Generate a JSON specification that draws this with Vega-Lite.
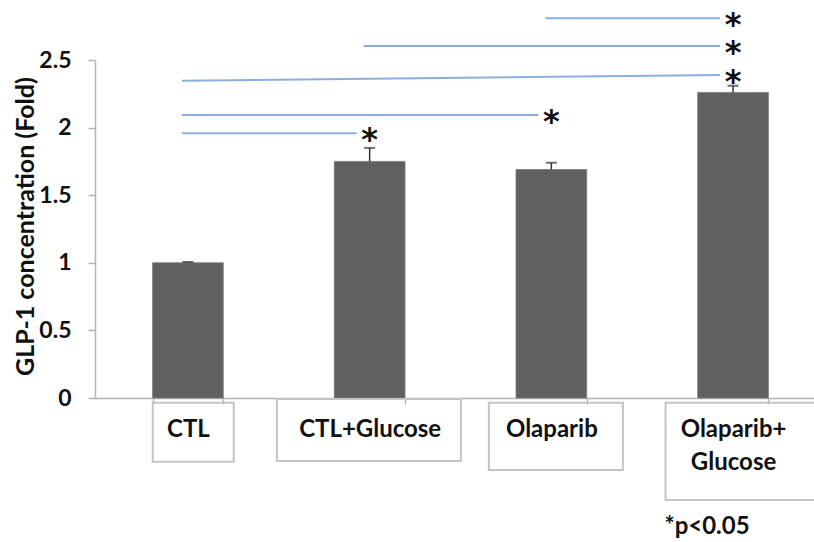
{
  "$schema": "https://vega.github.io/schema/vega-lite/v6.json",
  "width": 731,
  "height": 338,
  "autosize": {"type": "none"},
  "padding": {"left": 95, "top": 60, "right": 0, "bottom": 144},
  "background": "white",
  "config": {"view": {"stroke": null}, "font": "Lato"},
  "datasets": {
    "bars": [
      {"group": "CTL", "value": 1.0, "upper": 1.006},
      {"group": "CTL+Glucose", "value": 1.75, "upper": 1.85},
      {"group": "Olaparib", "value": 1.69, "upper": 1.74},
      {"group": "Olaparib+Glucose", "value": 2.26, "upper": 2.31}
    ],
    "sig": [
      {"from": "Olaparib", "to": "Olaparib+Glucose", "yStart": 2.808, "yEnd": 2.808},
      {"from": "CTL+Glucose", "to": "Olaparib+Glucose", "yStart": 2.604, "yEnd": 2.604},
      {"from": "CTL", "to": "Olaparib+Glucose", "yStart": 2.347, "yEnd": 2.389},
      {"from": "CTL", "to": "Olaparib", "yStart": 2.093, "yEnd": 2.093},
      {"from": "CTL", "to": "CTL+Glucose", "yStart": 1.958, "yEnd": 1.958}
    ],
    "note": [{"group": "Olaparib+Glucose", "text": "*p<0.05"}]
  },
  "layer": [
    {
      "data": {"name": "bars"},
      "mark": {"type": "bar", "color": "#606060", "stroke": "#777777", "strokeWidth": 0.8},
      "encoding": {
        "x": {
          "field": "group", "type": "nominal", "sort": null,
          "scale": {"domain": ["CTL", "CTL+Glucose", "Olaparib", "Olaparib+Glucose"], "paddingInner": 0.611, "paddingOuter": 0.317},
          "axis": {
            "title": null, "domainColor": "#b4b4b4", "domainWidth": 1.5,
            "tickColor": "#b4b4b4", "tickWidth": 1.5, "tickSize": 6, "tickBand": "extent",
            "labelFont": "Lato", "labelFontWeight": "bold", "labelFontSize": 24, "labelColor": "#111111",
            "labelPadding": 13, "labelBaseline": "top", "labelLineHeight": 33, "labelAngle": 0,
            "labelExpr": "datum.value == 'Olaparib+Glucose' ? ['Olaparib+', 'Glucose'] : datum.label"
          }
        },
        "y": {
          "field": "value", "type": "quantitative",
          "scale": {"domain": [0, 2.5], "nice": false},
          "axis": {
            "title": "GLP-1 concentration (Fold)", "values": [0, 0.5, 1, 1.5, 2, 2.5], "format": "~g",
            "grid": false, "domainColor": "#b4b4b4", "domainWidth": 1.5,
            "tickColor": "#b4b4b4", "tickWidth": 1.5, "tickSize": 7,
            "labelFont": "Lato", "labelFontWeight": "bold", "labelFontSize": 23, "labelColor": "#111111", "labelPadding": 17,
            "titleFont": "Lato", "titleFontWeight": "bold", "titleFontSize": 25, "titleColor": "#111111",
            "titleAngle": -90, "titleX": -70, "titleY": 166, "titleAlign": "center", "titleBaseline": "middle"
          }
        }
      }
    },
    {
      "data": {"name": "bars"},
      "transform": [{"filter": "datum.group == 'CTL'"}],
      "mark": {"type": "rect", "filled": false, "stroke": "#c4c4c4", "strokeWidth": 2, "width": 81, "xOffset": 5.3},
      "encoding": {"x": {"field": "group", "type": "nominal"}, "y": {"datum": -0.035}, "y2": {"datum": -0.471}}
    },
    {
      "data": {"name": "bars"},
      "transform": [{"filter": "datum.group == 'CTL+Glucose'"}],
      "mark": {"type": "rect", "filled": false, "stroke": "#c4c4c4", "strokeWidth": 2, "width": 184, "xOffset": -0.8},
      "encoding": {"x": {"field": "group", "type": "nominal"}, "y": {"datum": -0.007}, "y2": {"datum": -0.466}}
    },
    {
      "data": {"name": "bars"},
      "transform": [{"filter": "datum.group == 'Olaparib'"}],
      "mark": {"type": "rect", "filled": false, "stroke": "#c4c4c4", "strokeWidth": 2, "width": 134, "xOffset": 4.5},
      "encoding": {"x": {"field": "group", "type": "nominal"}, "y": {"datum": -0.035}, "y2": {"datum": -0.533}}
    },
    {
      "data": {"name": "bars"},
      "transform": [{"filter": "datum.group == 'Olaparib+Glucose'"}],
      "mark": {"type": "rect", "filled": false, "stroke": "#c4c4c4", "strokeWidth": 2, "width": 154, "xOffset": 9.5},
      "encoding": {"x": {"field": "group", "type": "nominal"}, "y": {"datum": -0.035}, "y2": {"datum": -0.754}}
    },
    {
      "data": {"name": "bars"},
      "mark": {"type": "rule", "color": "#333333", "strokeWidth": 1.5},
      "encoding": {"x": {"field": "group", "type": "nominal"}, "y": {"field": "value", "type": "quantitative"}, "y2": {"field": "upper"}}
    },
    {
      "data": {"name": "bars"},
      "mark": {"type": "tick", "color": "#333333", "thickness": 2, "size": 11},
      "encoding": {"x": {"field": "group", "type": "nominal"}, "y": {"field": "upper", "type": "quantitative"}}
    },
    {
      "data": {"name": "sig"},
      "mark": {"type": "rule", "color": "#8aaee0", "strokeWidth": 2, "xOffset": -6, "x2Offset": -13},
      "encoding": {
        "x": {"field": "from", "type": "nominal"}, "x2": {"field": "to"},
        "y": {"field": "yStart", "type": "quantitative"}, "y2": {"field": "yEnd"}
      }
    },
    {
      "data": {"name": "sig"},
      "mark": {"type": "text", "text": "*", "font": "DejaVu Sans", "fontWeight": "bold", "fontSize": 32, "baseline": "middle", "dy": 7, "color": "#111111"},
      "encoding": {"x": {"field": "to", "type": "nominal"}, "y": {"field": "yEnd", "type": "quantitative"}}
    },
    {
      "data": {"name": "note"},
      "mark": {"type": "text", "font": "Lato", "fontWeight": "bold", "fontSize": 24, "baseline": "middle", "align": "center", "dx": -26, "color": "#111111"},
      "encoding": {"x": {"field": "group", "type": "nominal"}, "y": {"datum": -0.954}, "text": {"field": "text"}}
    }
  ]
}
